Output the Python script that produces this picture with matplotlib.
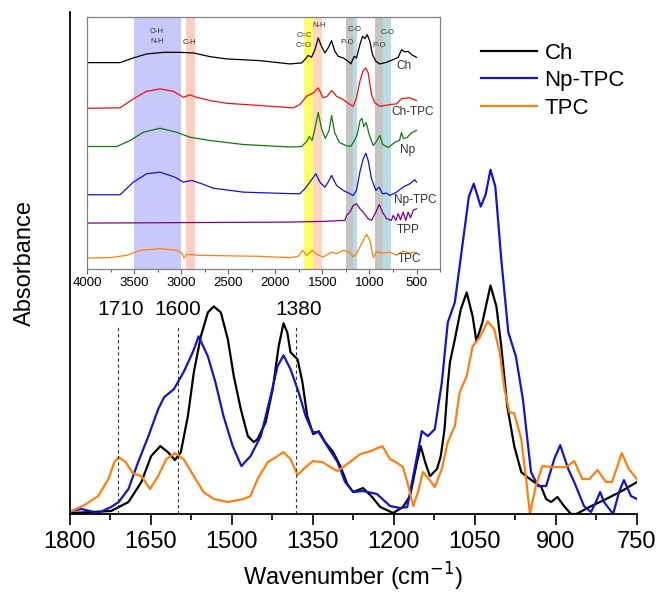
import matplotlib
matplotlib.use("Agg")
import matplotlib.pyplot as plt
from matplotlib.ticker import MultipleLocator

plt.rcParams['font.family'] = ['Liberation Sans', 'DejaVu Sans']

# ---------------- main chart data (wavenumber, absorbance a.u.) ----------------
ch_wn = [1796, 1723, 1691, 1667, 1649, 1632, 1618, 1605, 1594, 1581, 1570, 1557, 1544, 1533,
         1520, 1507, 1496, 1483, 1470, 1459, 1452, 1437, 1424, 1413, 1404, 1397, 1391, 1378,
         1369, 1360, 1349, 1339, 1327, 1312, 1299, 1286, 1275, 1257, 1240, 1225, 1201, 1183,
         1170, 1157, 1150, 1142, 1133, 1120, 1113, 1106, 1100, 1096, 1087, 1076, 1065, 1054,
         1047, 1036, 1021, 1010, 1001, 990, 977, 964, 953, 940, 927, 918, 909, 897, 885, 872,
         862, 838, 807, 778, 750]
ch_abs = [1, 3, 12, 32, 58, 68, 62, 54, 62, 98, 142, 178, 202, 208,
          202, 175, 138, 105, 78, 72, 75, 92, 125, 168, 191, 182, 162, 155,
          132, 98, 80, 83, 72, 62, 48, 30, 22, 26, 17, 7, 1, 7,
          18, 52, 68, 52, 38, 45, 58, 85, 130, 152, 175, 205, 222, 198,
          173, 192, 229, 208, 168, 108, 68, 42, 37, 32, 27, 15, 12, 17, 8, 0,
          0, 7, 15, 23, 32]

nptpc_wn = [1796, 1778, 1747, 1723, 1709, 1691, 1673, 1654, 1636, 1625, 1607, 1589, 1572, 1561,
            1544, 1530, 1515, 1498, 1482, 1465, 1446, 1428, 1415, 1404, 1391, 1376, 1363, 1350,
            1339, 1323, 1304, 1290, 1275, 1257, 1231, 1207, 1188, 1175, 1164, 1148, 1137, 1124,
            1111, 1100, 1087, 1074, 1061, 1052, 1039, 1030, 1021, 1012, 1001, 988, 974, 961,
            946, 933, 918, 903, 892, 877, 866, 848, 835, 826, 818, 811, 794, 783, 774, 761, 750]
nptpc_abs = [3, 5, 1, 7, 12, 25, 52, 78, 105, 117, 125, 142, 162, 178,
             158, 132, 98, 68, 48, 58, 78, 118, 148, 159, 145, 122, 98, 82,
             82, 68, 52, 32, 22, 23, 20, 8, 6, 7, 38, 83, 78, 85,
             132, 192, 212, 265, 318, 331, 308, 320, 345, 328, 255, 182, 158, 115,
             42, 28, 28, 55, 69, 45, 32, 8, 2, 12, 22, 12, 0, 22, 34, 18, 15]

tpc_wn = [1796, 1772, 1747, 1728, 1717, 1709, 1696, 1683, 1667, 1651, 1636, 1621, 1605, 1589,
          1570, 1552, 1533, 1507, 1478, 1465, 1452, 1433, 1415, 1404, 1391, 1378, 1367, 1350,
          1332, 1317, 1304, 1286, 1262, 1243, 1221, 1207, 1196, 1183, 1173, 1164, 1155, 1146,
          1135, 1124, 1111, 1100, 1087, 1078, 1065, 1054, 1041, 1026, 1014, 1004, 995, 986,
          977, 964, 955, 948, 937, 925, 907, 881, 866, 851, 838, 823, 807, 796, 778, 765, 750]
tpc_abs = [3, 9, 18, 35, 52, 57, 52, 41, 38, 25, 38, 55, 61, 55,
           38, 22, 15, 12, 15, 18, 35, 52, 58, 62, 55, 39, 45, 53,
           52, 47, 43, 50, 60, 63, 68, 55, 52, 47, 28, 8, 22, 42,
           35, 27, 45, 72, 88, 122, 138, 168, 177, 193, 185, 162, 125, 102,
           101, 75, 35, 0, 28, 48, 47, 47, 53, 35, 35, 44, 32, 32, 61, 45, 35]

marker_wn = [1710, 1600, 1380]
marker_labels = ["1710", "1600", "1380"]
marker_label_x = [1705, 1600, 1376]

main_ticks = [1800, 1650, 1500, 1350, 1200, 1050, 900, 750]

# ---------------- inset data (stacked spectra, wavenumber vs offset absorbance) ----------------
i_ch_wn = [4000, 3652, 3511, 3369, 3192, 3015, 2873, 2696, 2519, 2165, 1846, 1722, 1687, 1651,
           1616, 1580, 1545, 1510, 1474, 1439, 1403, 1368, 1332, 1279, 1226, 1198, 1162, 1138,
           1102, 1074, 1049, 1024, 996, 968, 932, 890, 819, 748, 695, 659, 624, 589, 553, 500]
i_ch_y = [207, 207, 211.7, 215.7, 217.3, 217.3, 216.7, 213, 210.7, 209, 205.7, 206.7, 210, 214.3,
          212.3, 220, 231.7, 223.3, 216.7, 221.7, 229, 218.3, 213.3, 211.7, 208.3, 205.7, 213.3, 211.7,
          225, 233.3, 231, 235, 228.3, 215, 208.3, 205.7, 207.3, 210, 212.3, 220, 217.7, 218.3, 215, 212.3]

i_chtpc_wn = [4000, 3652, 3511, 3369, 3227, 3086, 2979, 2909, 2838, 2696, 2519, 2165, 1810, 1740,
              1669, 1598, 1545, 1492, 1449, 1403, 1350, 1279, 1208, 1173, 1138, 1102, 1067, 1038,
              1014, 978, 943, 890, 819, 783, 712, 659, 571, 500]
i_chtpc_y = [161.3, 161.7, 170.7, 178.3, 180.7, 178.3, 172.3, 174.7, 172.3, 169, 166.3, 164, 161.7, 165,
             173.3, 176.7, 181.7, 171.7, 173.3, 179, 173.3, 170, 165, 163.3, 171.7, 188.3, 199, 201.7,
             196.7, 175, 166.7, 163.3, 164.3, 165, 165.7, 171, 171.7, 169]

i_np_wn = [4000, 3687, 3546, 3404, 3227, 3050, 2909, 2696, 2342, 1846, 1720, 1660, 1640, 1610,
           1580, 1545, 1510, 1470, 1430, 1403, 1370, 1320, 1250, 1200, 1160, 1130, 1100, 1080,
           1060, 1035, 1000, 960, 920, 890, 860, 800, 720, 680, 660, 640, 600, 550, 500]
i_np_y = [123, 123, 129, 137.3, 141.3, 137.3, 132.3, 129, 125, 122.5, 123, 129, 133, 129,
          141, 157, 141, 131, 139, 154, 137, 127, 124, 123, 129, 135, 149, 151,
          143, 147, 134, 124, 129, 134, 125, 122, 128, 129, 137, 131, 132, 137, 139]

i_nptpc_wn = [4000, 3652, 3511, 3369, 3227, 3068, 2979, 2891, 2802, 2661, 2342, 1810, 1740, 1687,
              1634, 1570, 1527, 1474, 1439, 1403, 1350, 1279, 1208, 1173, 1138, 1102, 1067, 1038,
              1014, 978, 932, 897, 861, 819, 783, 712, 642, 571, 518, 500]
i_nptpc_y = [74.7, 74.7, 87.3, 95.7, 97.3, 92.3, 87.3, 89, 86.3, 81.3, 77.3, 75.7, 75.7, 80.7,
             87.3, 95.7, 87.3, 82.3, 87.3, 94, 84, 79, 75.7, 74, 79, 97.3, 110.7, 116.3,
             109, 90.7, 79, 82.3, 75.7, 76.3, 74, 77.3, 82.3, 85.7, 89.7, 87.3]

i_tpp_wn = [4000, 1846, 1492, 1261, 1244, 1208, 1173, 1138, 1102, 1067, 1014, 978, 932, 897,
            861, 819, 766, 748, 720, 695, 670, 642, 614, 589, 564, 535, 500]
i_tpp_y = [46.3, 47.3, 48, 49, 54, 57.3, 64, 65.7, 60.7, 57.3, 50.7, 49, 57.3, 65,
           57.3, 50.7, 49, 54, 49, 55.7, 49.7, 57.3, 49, 57.3, 51.7, 59, 60.7]

i_tpc_wn = [4000, 3759, 3581, 3440, 3227, 3050, 2997, 2972, 2944, 2802, 2165, 1846, 1757, 1711,
            1669, 1605, 1563, 1492, 1403, 1350, 1279, 1208, 1173, 1138, 1084, 1031, 996, 960,
            925, 854, 783, 712, 642, 571, 500]
i_tpc_y = [11.3, 11.7, 14, 19, 20.7, 19, 16.3, 11.7, 15, 14, 13, 11.7, 13, 19,
           14, 19, 15, 12.3, 17.3, 15.7, 19, 17.3, 12.3, 15.7, 25.7, 35, 29, 11.7,
           17.3, 16.3, 17.3, 14, 18.3, 16.3, 17.3]

inset_labels = ["Ch", "Ch-TPC", "Np", "Np-TPC", "TPP", "TPC"]
inset_label_x = [631, 536, 595, 517, 589, 570]
inset_label_y = [204, 157.3, 119.7, 69, 39, 10.7]

# bands: (start, end, colour)
band_lo = [3000, 2850, 1600, 1500, 1180, 1130, 860, 770]
band_hi = [3500, 2950, 1700, 1600, 1250, 1180, 940, 860]
band_col = ['#c8c8fa', '#ffcdc4', '#ffff66', '#ffd6bf', '#c4c4c4', '#b9dbe3', '#c4c4c4', '#b9dbe3']

group_txt = ["O-H\nN-H", "C-H", "C=C\nC=O", "N-H", "C-O", "P-O", "P-O", "C-O"]
group_x = [3260, 2920, 1697, 1540, 1156, 1237, 900, 808]
group_y = [233, 227, 229, 244, 240, 227.3, 224, 237.3]

# ---------------- figure ----------------
fig = plt.figure(figsize=(6.59, 5.94), dpi=100)
ax = fig.add_axes([0.1055, 0.1347, 0.861, 0.845])

ax.plot(ch_wn, ch_abs, color='black', lw=1.6, label='Ch')
ax.plot(nptpc_wn, nptpc_abs, color='#1414c8', lw=1.6, label='Np-TPC')
ax.plot(tpc_wn, tpc_abs, color='#ff7f0e', lw=1.6, label='TPC')

for wn, lab, lx in zip(marker_wn, marker_labels, marker_label_x):
    ax.plot([wn, wn], [0, 188], color='#333333', lw=0.8, ls=(0, (3, 2.5)))
    ax.text(lx, 205, lab, ha='center', va='center', fontsize=15)

ax.set_xlim(1800, 750)
ax.set_ylim(0, 503)
ax.set_xticks(main_ticks)
ax.xaxis.set_minor_locator(MultipleLocator(75))
ax.tick_params(axis='x', which='major', direction='out', length=8, width=1.2, labelsize=17, pad=4)
ax.tick_params(axis='x', which='minor', direction='out', length=4.5, width=1.2)
ax.set_yticks([])
for s in ['top', 'right']:
    ax.spines[s].set_visible(False)
ax.spines['left'].set_linewidth(1.3)
ax.spines['bottom'].set_linewidth(1.3)
ax.set_xlabel('Wavenumber (cm$^{-1}$)', fontsize=17, labelpad=6)
ax.set_ylabel('Absorbance', fontsize=17, labelpad=24)

ax.legend(loc='upper left', bbox_to_anchor=(0.71, 0.957), frameon=False, fontsize=16,
          handlelength=2.5, handletextpad=0.35, labelspacing=0.3, borderaxespad=0)

# ---------------- inset ----------------
ins = fig.add_axes([0.1325, 0.5466, 0.5352, 0.4253])
for lo, hi, c in zip(band_lo, band_hi, band_col):
    ins.axvspan(lo, hi, color=c, lw=0, zorder=0)

ins.plot(i_ch_wn, i_ch_y, color='black', lw=0.9)
ins.plot(i_chtpc_wn, i_chtpc_y, color='#f01010', lw=0.9)
ins.plot(i_np_wn, i_np_y, color='#137a13', lw=0.9)
ins.plot(i_nptpc_wn, i_nptpc_y, color='#1414c8', lw=0.9)
ins.plot(i_tpp_wn, i_tpp_y, color='#800080', lw=0.9)
ins.plot(i_tpc_wn, i_tpc_y, color='#ff7f0e', lw=0.9)

for t, x, y in zip(inset_labels, inset_label_x, inset_label_y):
    ins.text(x, y, t, ha='center', va='center', fontsize=8.5, color='#333333')
for t, x, y in zip(group_txt, group_x, group_y):
    ins.text(x, y, t, ha='center', va='center', fontsize=5.5, color='#333333', linespacing=1.5)

ins.set_xlim(4000, 250)
ins.set_ylim(0, 253)
ins.set_xticks([4000, 3500, 3000, 2500, 2000, 1500, 1000, 500])
ins.xaxis.set_minor_locator(MultipleLocator(250))
ins.tick_params(axis='x', which='major', direction='out', length=3.5, width=0.8, labelsize=9.5,
                pad=2, color='#666666')
ins.tick_params(axis='x', which='minor', direction='out', length=2, width=0.8, color='#666666')
ins.set_yticks([])
for s in ins.spines.values():
    s.set_color('#808080')
    s.set_linewidth(0.9)

fig.savefig('out.png', dpi=100)
